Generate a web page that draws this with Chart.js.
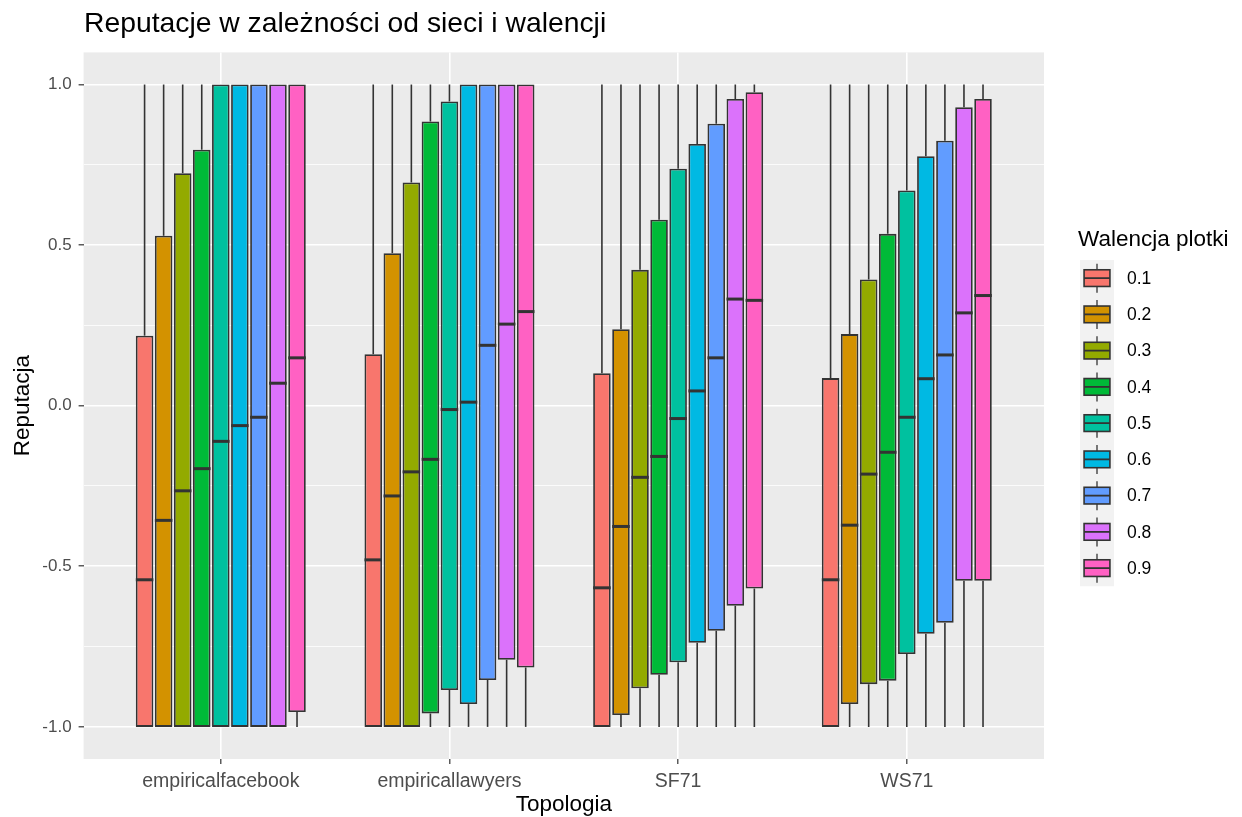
<!DOCTYPE html>
<html>
<head>
<meta charset="utf-8">
<script src="https://cdn.jsdelivr.net/npm/chart.js@4.4.1/dist/chart.umd.min.js"></script>
<style>
  html, body { margin: 0; padding: 0; background: #ffffff; }
  canvas { display: block; }
</style>
</head>
<body>
<canvas id="chart" width="1242" height="817"></canvas>
<script>
// Networks on the x axis and gossip valence levels (one box per level)
const networks = ['empiricalfacebook', 'empiricallawyers', 'SF71', 'WS71'];
const valences = ['0.1', '0.2', '0.3', '0.4', '0.5', '0.6', '0.7', '0.8', '0.9'];
const palette = ['#F8766D', '#D39200', '#93AA00', '#00BA38', '#00C19F', '#00B9E3', '#619CFF', '#DB72FB', '#FF61C3'];

// Box statistics: one row per valence level, one column per network
const whiskerLow = [
  [-1, -1, -1, -1], [-1, -1, -1, -1], [-1, -1, -1, -1],
  [-1, -1, -1, -1], [-1, -1, -1, -1], [-1, -1, -1, -1],
  [-1, -1, -1, -1], [-1, -1, -1, -1], [-1, -1, -1, -1]
];
const boxLow = [
  [-1, -1, -1, -1],
  [-1, -1, -0.963, -0.929],
  [-1, -1, -0.880, -0.867],
  [-1, -0.958, -0.838, -0.856],
  [-1, -0.885, -0.799, -0.773],
  [-1, -0.929, -0.738, -0.710],
  [-1, -0.854, -0.701, -0.676],
  [-1, -0.791, -0.623, -0.545],
  [-0.954, -0.815, -0.569, -0.545]
];
const median = [
  [-0.542, -0.480, -0.567, -0.542],
  [-0.357, -0.281, -0.376, -0.372],
  [-0.265, -0.206, -0.223, -0.213],
  [-0.196, -0.167, -0.158, -0.145],
  [-0.111, -0.012, -0.040, -0.036],
  [-0.062, 0.011, 0.046, 0.084],
  [-0.036, 0.188, 0.149, 0.158],
  [0.070, 0.254, 0.332, 0.289],
  [0.149, 0.293, 0.328, 0.343]
];
const boxHigh = [
  [0.218, 0.160, 0.101, 0.086],
  [0.529, 0.475, 0.238, 0.223],
  [0.724, 0.695, 0.423, 0.393],
  [0.797, 0.885, 0.579, 0.535],
  [1, 0.947, 0.738, 0.670],
  [1, 1, 0.815, 0.777],
  [1, 1, 0.878, 0.825],
  [1, 1, 0.955, 0.929],
  [1, 1, 0.976, 0.955]
];
const whiskerHigh = [
  [1, 1, 1, 1], [1, 1, 1, 1], [1, 1, 1, 1],
  [1, 1, 1, 1], [1, 1, 1, 1], [1, 1, 1, 1],
  [1, 1, 1, 1], [1, 1, 1, 1], [1, 1, 1, 1]
];
const yTicks = [-1, -0.75, -0.5, -0.25, 0, 0.25, 0.5, 0.75, 1];

const FONT = "'Liberation Sans', Arial, sans-serif";
const INK = '#333333';
Chart.defaults.font.family = FONT;

const isMajor = v => Math.abs(v * 2 - Math.round(v * 2)) < 1e-9;

// Boxes are floating bars from the lower to the upper hinge
const datasets = valences.map((label, i) => ({
  label,
  data: networks.map((n, j) => ({ x: j + 1, y: [boxLow[i][j], boxHigh[i][j]] })),
  backgroundColor: palette[i],
  borderColor: INK,
  borderWidth: 1.8,
  borderSkipped: false
}));

// Grey panel behind the plot area
const panel = {
  id: 'panel',
  beforeDraw(chart) {
    const { ctx, chartArea: a } = chart;
    ctx.save();
    ctx.fillStyle = '#EBEBEB';
    ctx.fillRect(a.left, a.top, a.right - a.left, a.bottom - a.top);
    ctx.restore();
  }
};

// Whiskers and median lines on top of each box
const boxDetails = {
  id: 'boxDetails',
  afterDatasetsDraw(chart) {
    const { ctx } = chart;
    const y = chart.scales.y;
    ctx.save();
    ctx.strokeStyle = INK;
    ctx.lineCap = 'butt';
    chart.data.datasets.forEach((ds, i) => {
      const meta = chart.getDatasetMeta(i);
      meta.data.forEach((bar, j) => {
        const x = bar.x;
        const half = bar.width / 2;
        ctx.lineWidth = 1.6;
        ctx.beginPath();
        if (whiskerHigh[i][j] > boxHigh[i][j]) {
          ctx.moveTo(x, y.getPixelForValue(boxHigh[i][j]));
          ctx.lineTo(x, y.getPixelForValue(whiskerHigh[i][j]));
        }
        if (whiskerLow[i][j] < boxLow[i][j]) {
          ctx.moveTo(x, y.getPixelForValue(boxLow[i][j]));
          ctx.lineTo(x, y.getPixelForValue(whiskerLow[i][j]));
        }
        ctx.stroke();
        const ym = y.getPixelForValue(median[i][j]);
        ctx.lineWidth = 3;
        ctx.beginPath();
        ctx.moveTo(x - half, ym);
        ctx.lineTo(x + half, ym);
        ctx.stroke();
      });
    });
    ctx.restore();
  }
};

// Title and the boxplot legend on the right
const annotations = {
  id: 'annotations',
  afterDraw(chart) {
    const { ctx } = chart;
    ctx.save();
    ctx.fillStyle = '#000000';
    ctx.textBaseline = 'alphabetic';
    ctx.textAlign = 'left';
    ctx.font = `28.3px ${FONT}`;
    ctx.fillText('Reputacje w zależności od sieci i walencji', 84, 32);

    ctx.font = `22.5px ${FONT}`;
    ctx.fillText('Walencja plotki', 1078, 246);

    const keyLeft = 1080, keyW = 34, keyH = 36.25, firstTop = 260;
    ctx.fillStyle = '#F2F2F2';
    ctx.fillRect(keyLeft, firstTop, keyW, keyH * valences.length);

    valences.forEach((label, i) => {
      const top = firstTop + i * keyH;
      const cy = top + keyH / 2;
      const cx = keyLeft + keyW / 2;
      ctx.strokeStyle = INK;
      ctx.lineWidth = 1.3;
      ctx.beginPath();
      ctx.moveTo(cx, top + keyH * 0.1);
      ctx.lineTo(cx, top + keyH * 0.9);
      ctx.stroke();
      const bx = keyLeft + keyW * 0.12, bw = keyW * 0.76;
      const by = top + keyH * 0.27, bh = keyH * 0.46;
      ctx.fillStyle = palette[i];
      ctx.lineWidth = 1.6;
      ctx.fillRect(bx, by, bw, bh);
      ctx.strokeRect(bx, by, bw, bh);
      ctx.lineWidth = 1.8;
      ctx.beginPath();
      ctx.moveTo(bx, cy);
      ctx.lineTo(bx + bw, cy);
      ctx.stroke();
      ctx.fillStyle = '#000000';
      ctx.font = `17.5px ${FONT}`;
      ctx.textBaseline = 'middle';
      ctx.fillText(label, 1127, cy + 1);
    });
    ctx.restore();
  }
};

new Chart(document.getElementById('chart'), {
  type: 'bar',
  data: { datasets },
  plugins: [panel, boxDetails, annotations],
  options: {
    responsive: false,
    animation: false,
    devicePixelRatio: 1,
    layout: { padding: { top: 52.4, right: 198, bottom: 0, left: 0 } },
    datasets: { bar: { categoryPercentage: 0.75, barPercentage: 0.92 } },
    plugins: { legend: { display: false }, tooltip: { enabled: false }, title: { display: false } },
    scales: {
      x: {
        type: 'linear',
        min: 0.4,
        max: 4.6,
        offset: false,
        afterBuildTicks: axis => { axis.ticks = networks.map((n, i) => ({ value: i + 1 })); },
        afterFit: axis => { axis.height = 58; },
        border: { display: false },
        grid: { offset: false, color: '#FFFFFF', lineWidth: 1.6, tickColor: INK, tickLength: 5, tickWidth: 1.2 },
        ticks: {
          autoSkip: false,
          maxRotation: 0,
          padding: 6,
          color: '#4D4D4D',
          font: { size: 19.5 },
          callback: v => networks[Math.round(v) - 1]
        },
        title: { display: true, text: 'Topologia', color: '#000000', font: { size: 22.5 }, padding: { top: 0, bottom: -1 } }
      },
      y: {
        min: -1.1,
        max: 1.1,
        afterBuildTicks: axis => { axis.ticks = yTicks.map(v => ({ value: v })); },
        afterFit: axis => { axis.width = 83.6; },
        border: { display: false },
        grid: {
          color: '#FFFFFF',
          lineWidth: c => (c.tick && isMajor(c.tick.value) ? 1.6 : 0.8),
          tickColor: c => (c.tick && isMajor(c.tick.value) ? INK : 'rgba(0,0,0,0)'),
          tickLength: 5,
          tickWidth: 1.2
        },
        ticks: {
          padding: 7,
          color: '#4D4D4D',
          font: { size: 17 },
          callback: v => (isMajor(v) ? v.toFixed(1) : '')
        },
        title: { display: true, text: 'Reputacja', color: '#000000', font: { size: 22.5 }, padding: { top: 9, bottom: 0 } }
      }
    }
  }
});
</script>
</body>
</html>
